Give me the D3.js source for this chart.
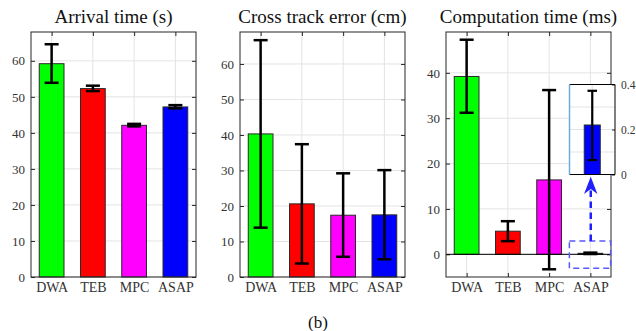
<!DOCTYPE html>
<html>
<head>
<meta charset="utf-8">
<script src="https://cdn.jsdelivr.net/npm/d3@7"></script>
<style>
  html, body { margin: 0; padding: 0; background: #fff; }
  svg { display: block; }
</style>
</head>
<body>
<svg id="chart" width="636" height="331"></svg>
<script>
// Planner comparison: mean with min/max error bars
const methods = ["DWA", "TEB", "MPC", "ASAP"];
const barColors = ["#00ff00", "#ff0000", "#ff00ff", "#0000ff"];

const arrivalMean = [59.2, 52.3, 42.1, 47.2];
const arrivalLow  = [53.9, 51.6, 41.8, 46.8];
const arrivalHigh = [64.6, 53.1, 42.5, 47.7];

const crossMean = [40.3, 20.6, 17.4, 17.5];
const crossLow  = [13.9, 3.8, 5.7, 5.0];
const crossHigh = [66.7, 37.4, 29.2, 30.1];

const compMean = [39.2, 5.1, 16.4, 0.22];
const compLow  = [31.2, 2.9, -3.3, 0.064];
const compHigh = [47.3, 7.3, 36.2, 0.372];

const arrivalTicks = [0, 10, 20, 30, 40, 50, 60];
const crossTicks   = [0, 10, 20, 30, 40, 50, 60];
const compTicks    = [0, 10, 20, 30, 40];
const insetGrid    = [0.1, 0.2, 0.3];
const insetTicks   = [0, 0.2, 0.4];

const titles = ["Arrival time (s)", "Cross track error (cm)", "Computation time (ms)"];
const caption = "(b)";

const FONT = "Liberation Serif";
const svg = d3.select("#chart");
const axisColor = "#262626";
const textColor = "#333";
const gridColor = "#e3e3e3";

const panels = [
  { title: titles[0], mean: arrivalMean, low: arrivalLow, high: arrivalHigh, ticks: arrivalTicks, domain: [0, 68], x0: 31, x1: 196 },
  { title: titles[1], mean: crossMean, low: crossLow, high: crossHigh, ticks: crossTicks, domain: [0, 69], x0: 240, x1: 405 },
  { title: titles[2], mean: compMean, low: compLow, high: compHigh, ticks: compTicks, domain: [-5, 49], x0: 446, x1: 611, zeroLine: true }
];
const plotTop = 32, plotBottom = 277;

function drawBars(g, x, y, names, colors, mean, low, high, barW, capW, errW) {
  const base = y(Math.max(0, y.domain()[0]));
  g.selectAll("rect.bar").data(names).join("rect")
    .attr("class", "bar")
    .attr("x", d => x(d) - barW / 2)
    .attr("width", barW)
    .attr("y", (d, i) => Math.min(y(mean[i]), base))
    .attr("height", (d, i) => Math.abs(base - y(mean[i])))
    .attr("fill", (d, i) => colors[i])
    .attr("stroke", "#2a2a2a")
    .attr("stroke-width", 1);
  const eb = g.selectAll("g.err").data(names).join("g").attr("class", "err")
    .attr("stroke", "#000").attr("stroke-width", errW).attr("fill", "none");
  eb.append("line").attr("x1", d => x(d)).attr("x2", d => x(d))
    .attr("y1", (d, i) => y(low[i])).attr("y2", (d, i) => y(high[i]));
  eb.append("line").attr("x1", d => x(d) - capW / 2).attr("x2", d => x(d) + capW / 2)
    .attr("y1", (d, i) => y(low[i])).attr("y2", (d, i) => y(low[i]));
  eb.append("line").attr("x1", d => x(d) - capW / 2).attr("x2", d => x(d) + capW / 2)
    .attr("y1", (d, i) => y(high[i])).attr("y2", (d, i) => y(high[i]));
}

panels.forEach(p => {
  const g = svg.append("g");
  const x = d3.scalePoint().domain(methods).range([p.x0, p.x1]).padding(0.5);
  const y = d3.scaleLinear().domain(p.domain).range([plotBottom, plotTop]);
  const step = x.step();

  // grid
  g.append("g").selectAll("line").data(p.ticks).join("line")
    .attr("x1", p.x0).attr("x2", p.x1).attr("y1", d => y(d)).attr("y2", d => y(d))
    .attr("stroke", gridColor).attr("stroke-width", 1);
  g.append("g").selectAll("line").data(methods).join("line")
    .attr("x1", d => x(d)).attr("x2", d => x(d)).attr("y1", plotTop).attr("y2", plotBottom)
    .attr("stroke", gridColor).attr("stroke-width", 1);

  // axes on all four sides, ticks pointing inward
  const left = g.append("g").attr("transform", `translate(${p.x0},0)`)
    .call(d3.axisLeft(y).tickValues(p.ticks).tickSize(-4).tickPadding(6).tickFormat(d3.format("d")));
  left.select(".domain").remove();
  left.selectAll("line").attr("stroke", axisColor);
  left.selectAll("text").attr("fill", textColor).attr("font-size", 13);
  const right = g.append("g").attr("transform", `translate(${p.x1},0)`)
    .call(d3.axisRight(y).tickValues(p.ticks).tickSize(-4).tickFormat(""));
  right.select(".domain").remove();
  right.selectAll("line").attr("stroke", axisColor);

  const bot = g.append("g").attr("transform", `translate(0,${plotBottom})`)
    .call(d3.axisBottom(x).tickSize(-4).tickPadding(5));
  bot.select(".domain").remove();
  bot.selectAll("line").attr("stroke", axisColor);
  bot.selectAll("text").attr("fill", textColor).attr("font-size", 14);
  const tp = g.append("g").attr("transform", `translate(0,${plotTop})`)
    .call(d3.axisTop(x).tickSize(-4).tickFormat(""));
  tp.select(".domain").remove();
  tp.selectAll("line").attr("stroke", axisColor);

  drawBars(g, x, y, methods, barColors, p.mean, p.low, p.high, step * 0.6, step * 0.34, 2.5);

  if (p.zeroLine) {
    g.append("line").attr("x1", p.x0).attr("x2", p.x1).attr("y1", y(0)).attr("y2", y(0))
      .attr("stroke", "#000").attr("stroke-width", 1);
  }

  // frame
  g.append("rect").attr("x", p.x0).attr("y", plotTop).attr("width", p.x1 - p.x0).attr("height", plotBottom - plotTop)
    .attr("fill", "none").attr("stroke", axisColor).attr("stroke-width", 1);

  g.append("text").attr("x", (p.x0 + p.x1) / 2).attr("y", 23).attr("text-anchor", "middle")
    .attr("fill", "#111").attr("font-size", 19).text(p.title);

  p.x = x; p.y = y;
});

// Zoomed view of the ASAP computation time
const cp = panels[2];
const last = methods.length - 1;
const hx0 = cp.x(methods[last]) - 21, hx1 = cp.x(methods[last]) + 20.3;
const hy0 = cp.y(2.93), hy1 = cp.y(-3.08);
svg.append("rect").attr("x", hx0).attr("y", hy0).attr("width", hx1 - hx0).attr("height", hy1 - hy0)
  .attr("fill", "none").attr("stroke", "#5a5aff").attr("stroke-width", 1.5).attr("stroke-dasharray", "6,4");

const ix0 = 569.5, ix1 = 615, iy0 = 84.5, iy1 = 174.5;
const ix = d3.scalePoint().domain([methods[last]]).range([ix0, ix1]).padding(0.5);
const iy = d3.scaleLinear().domain([0, 0.4]).range([iy1, iy0]);
const ins = svg.append("g");
ins.append("rect").attr("x", ix0).attr("y", iy0).attr("width", ix1 - ix0).attr("height", iy1 - iy0).attr("fill", "#fff");
ins.selectAll("line.grid").data(insetGrid).join("line").attr("class", "grid")
  .attr("x1", ix0).attr("x2", ix1).attr("y1", d => iy(d)).attr("y2", d => iy(d))
  .attr("stroke", gridColor);
ins.append("line").attr("x1", ix(methods[last])).attr("x2", ix(methods[last])).attr("y1", iy0).attr("y2", iy1)
  .attr("stroke", gridColor);
drawBars(ins, ix, iy, [methods[last]], [barColors[last]], [compMean[last]], [compLow[last]], [compHigh[last]], 16, 9.5, 2.2);
const ir = ins.append("g").attr("transform", `translate(${ix1},0)`)
  .call(d3.axisRight(iy).tickValues(insetTicks).tickSize(-3).tickPadding(6).tickFormat(d => d === 0 ? "0" : d3.format(".1f")(d)));
ir.select(".domain").remove();
ir.selectAll("line").attr("stroke", axisColor);
ir.selectAll("text").attr("fill", textColor).attr("font-size", 11.5);
ins.append("path").attr("d", `M${ix0},${iy0}H${ix1}V${iy1}H${ix0}`).attr("fill", "none").attr("stroke", "#000").attr("stroke-width", 1);
ins.append("line").attr("x1", ix0).attr("x2", ix0).attr("y1", iy0).attr("y2", iy1)
  .attr("stroke", "#6aaee0").attr("stroke-width", 1.5);

// dashed arrow from highlight box up to the zoomed view
const ax = ix(methods[last]) - 1.5;
svg.append("line").attr("x1", ax).attr("x2", ax).attr("y1", hy0).attr("y2", iy1 + 16)
  .attr("stroke", "#2020ff").attr("stroke-width", 2.5).attr("stroke-dasharray", "6.5,4.5");
svg.append("path")
  .attr("d", `M${ax},${iy1 + 2.2}L${ax - 6.7},${iy1 + 19.5}L${ax},${iy1 + 14.5}L${ax + 6.7},${iy1 + 19.5}Z`)
  .attr("fill", "#2020ff");

svg.append("text").attr("x", 318).attr("y", 328).attr("text-anchor", "middle")
  .attr("fill", "#111").attr("font-size", 17).text(caption);

// serif type everywhere, including axis tick labels
svg.selectAll("g").attr("font-family", FONT);
svg.selectAll("text").attr("font-family", FONT);
</script>
</body>
</html>
